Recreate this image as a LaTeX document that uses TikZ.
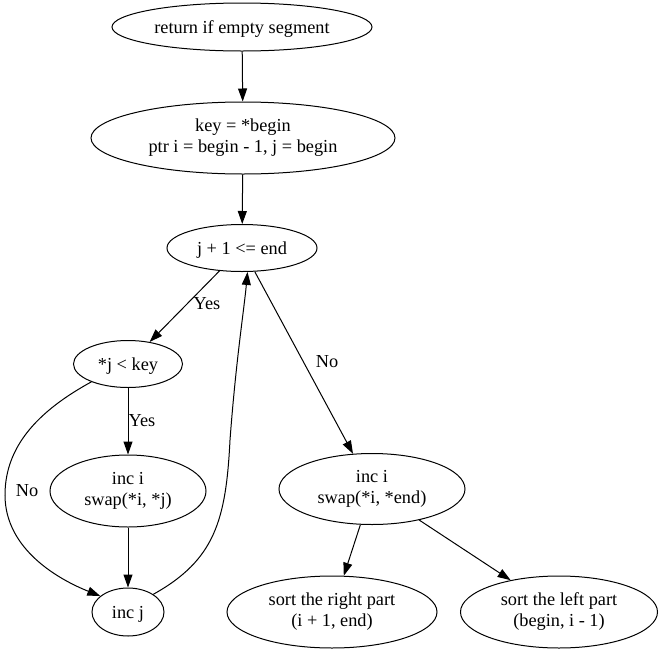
\documentclass[tikz,border=0pt]{standalone}
\usepackage{fontspec}
\setmainfont{Liberation Serif}
\usetikzlibrary{shapes.geometric,arrows.meta}
\begin{document}
\begin{tikzpicture}[x=1pt,y=-1pt,
  every node/.style={font=\fontsize{18.3}{21}\selectfont},
  box/.style={ellipse,draw,line width=1pt,inner sep=0pt,align=center},
  onebox/.style={box,text height=16pt,text depth=4pt},
  lbl/.style={inner sep=0pt},
  edge/.style={draw,line width=1pt,-{Triangle[length=13pt,width=9pt]}}]
\useasboundingbox (0,0) rectangle (662,654);
\node[onebox,minimum width=260pt,minimum height=48pt] (n1) at (242,27) {return if empty segment};
\node[box,minimum width=304pt,minimum height=72pt] (n2) at (243,138) {key = *begin\\ptr i = begin - 1, j = begin};
\node[onebox,minimum width=150pt,minimum height=47pt] (n3) at (242,248) {j + 1 <= end};
\node[onebox,minimum width=109pt,minimum height=47pt] (n4) at (128,364) {*j < key};
\node[box,minimum width=156pt,minimum height=72pt] (n5) at (128,491) {inc i\\swap(*i, *j)};
\node[onebox,minimum width=72pt,minimum height=48pt] (n6) at (128,612) {inc j};
\node[box,minimum width=186pt,minimum height=71pt] (n7) at (372,489) {inc i\\swap(*i, *end)};
\node[box,minimum width=210pt,minimum height=72pt] (n8) at (332,612) {sort the right part\\(i + 1, end)};
\node[box,minimum width=197pt,minimum height=72pt] (n9) at (559,612) {sort the left part\\(begin, i - 1)};
\draw[edge] (n1) -- (n2);
\draw[edge] (n2) -- (n3);
\draw[edge] (n3) -- (n4);
\draw[edge] (n3) -- (n7);
\draw[edge] (n4) -- (n5);
\draw[edge] (n5) -- (n6);
\draw[edge] (n7) -- (n8);
\draw[edge] (n7) -- (n9);
\draw[edge] (n4.206) .. controls (40,410) and (5,445) .. (5,495) .. controls (5,550) and (60,580) .. (n6.150);
\draw[edge] (n6.35) .. controls (215,560) and (226,520) .. (230,440) .. controls (236,360) and (244,310) .. (n3.-77);
\node[lbl] (l1) at (207,304) {Yes};
\node[lbl] (l2) at (327,362) {No};
\node[lbl] (l3) at (142,421) {Yes};
\node[lbl] (l4) at (27,491) {No};
\end{tikzpicture}
\end{document}
